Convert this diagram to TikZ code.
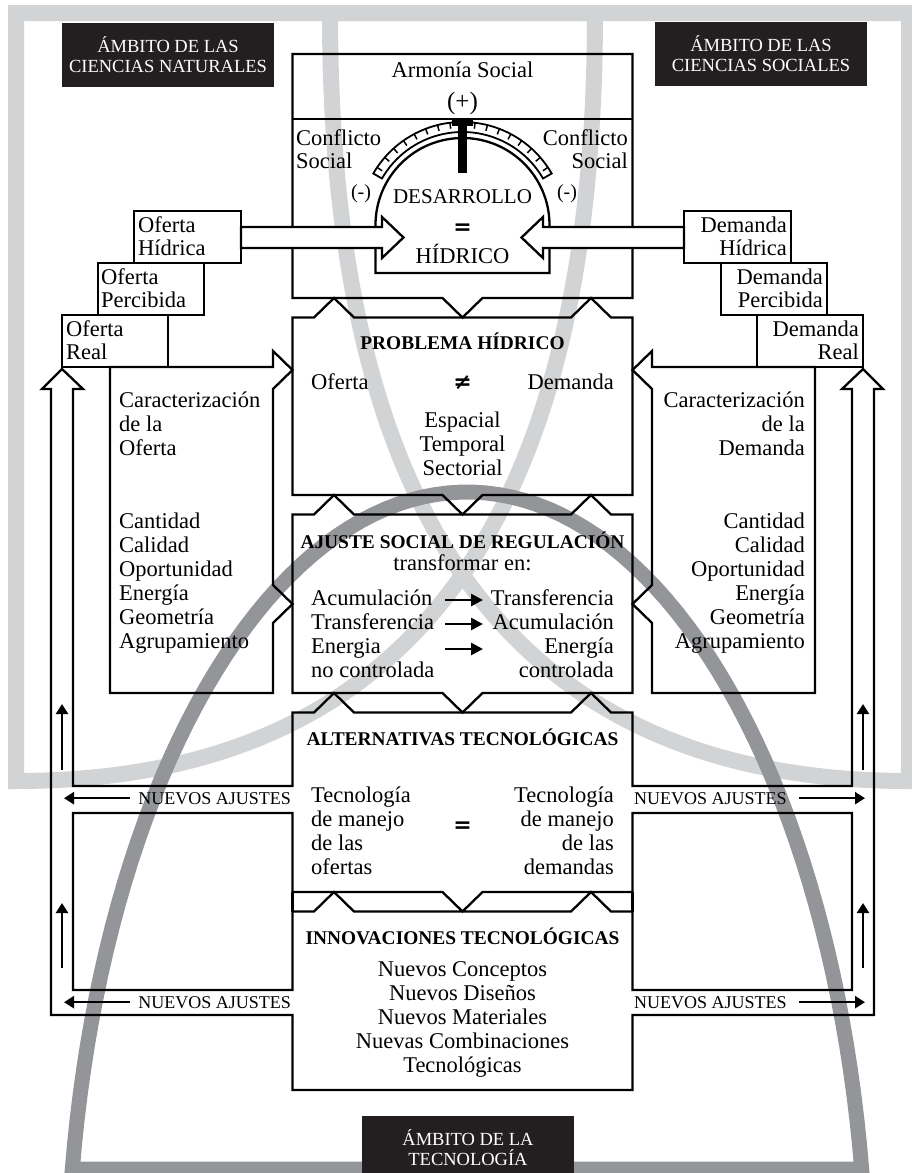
\documentclass[tikz,border=0pt]{standalone}
\usepackage{fontspec}
\setmainfont{Liberation Serif}
\newfontfamily\eqsignfont{DejaVu Sans}
\usetikzlibrary{arrows.meta}
\definecolor{lightband}{HTML}{D1D3D4}
\definecolor{darkband}{HTML}{939598}
\definecolor{labelfill}{HTML}{231F20}
\tikzset{
  outline/.style={draw=black,line width=2.3pt},
  bodytext/.style={inner sep=0pt,font=\fontsize{22.5}{24}\selectfont},
  stairtext/.style={inner sep=0pt,font=\fontsize{22.5}{23}\selectfont},
  headtext/.style={inner sep=0pt,font=\fontsize{19.4}{22}\selectfont\bfseries},
  smalltext/.style={inner sep=0pt,font=\fontsize{18}{20}\selectfont},
  eqtext/.style={inner sep=0pt,font=\eqsignfont\bfseries\fontsize{22}{24}\selectfont},
  ambito/.style={fill=labelfill,text=white,inner sep=0pt,minimum width=212pt,minimum height=64pt,align=center,font=\fontsize{18.5}{20}\selectfont},
  flowarrow/.style={line width=2.3pt,-{Triangle[length=10pt,width=12pt]}},
  turnarrow/.style={line width=2.7pt,-{Triangle[length=12pt,width=12pt]}}
}
\begin{document}
\begin{tikzpicture}[x=1pt,y=-1pt,line join=miter]
\useasboundingbox (0,0) rectangle (912,1173);
\clip (0,0) rectangle (912,1173);
%%
  % Area: ciencias naturales
  \draw[lightband,line width=16pt] (595,13) .. controls (595,489) and (433,781) .. (16,781) -- (16,13) -- cycle;
  % Area: ciencias sociales
  \draw[lightband,line width=16pt] (330,13) .. controls (330,489) and (492,781) .. (909,781) -- (909,13) -- cycle;
  % Area: tecnologia
  \draw[darkband,line width=15pt] plot[domain=9.33:170.67,samples=90] ({467+400*cos(\x)},{1300-808*sin(\x)}) -- cycle;
%%
  % Node: ambito labels
  \node[ambito] (naturales) at (168,55) {ÁMBITO DE LAS\\CIENCIAS NATURALES};
  \node[ambito] (sociales) at (761,54) {ÁMBITO DE LAS\\CIENCIAS SOCIALES};
  \node[ambito] (tecnologia) at (468,1148) {ÁMBITO DE LA\\TECNOLOGÍA};
%%
  % Node: desarrollo hidrico (top box)
  \draw[outline] (292.5,298) -- (292.5,54) -- (632.5,54) -- (632.5,298) -- (482.5,298) -- (462.5,317.5) -- (442.5,298) -- cycle;
  \draw[outline] (292.5,119) -- (632.5,119);
  % gauge
  \draw[outline] (375.5,273) -- (375.5,225) arc[start angle=180,end angle=0,radius=87pt] -- (549.5,273) -- cycle;
  \draw[line width=1.8pt] ({462.5+93*cos(150)},{225-93*sin(150)}) arc[start angle=150,end angle=30,radius=93pt]
    -- ({462.5+103*cos(30)},{225-103*sin(30)}) arc[start angle=30,end angle=150,radius=103pt] -- cycle;
  \foreach \a in {34,41,...,83,97,104,...,146}
    \draw[line width=1.5pt] ({462.5+103*cos(\a)},{225-103*sin(\a)}) -- ({462.5+97*cos(\a)},{225-97*sin(\a)});
  \fill (458,121) rectangle (467,173);
  \fill (452,118) rectangle (473,126);
  % Node: problema hidrico
  \draw[outline] (292.5,317.5) -- (314,317.5) -- (334,298) -- (354,317.5) -- (571,317.5) -- (591,298) -- (611,317.5) -- (632.5,317.5)
    -- (632.5,495) -- (482.5,495) -- (462.5,514.5) -- (442.5,495) -- (292.5,495) -- cycle;
  % Node: ajuste social
  \draw[outline] (292.5,514.5) -- (314,514.5) -- (334,495) -- (354,514.5) -- (571,514.5) -- (591,495) -- (611,514.5) -- (632.5,514.5)
    -- (632.5,693) -- (482.5,693) -- (462.5,712.5) -- (442.5,693) -- (292.5,693) -- cycle;
  % Node: alternativas + innovaciones, outer loop of nuevos ajustes
  \draw[outline] (51,1015) -- (51,389) -- (42,389) -- (62,369) -- (83,389) -- (73,389) -- (73,786) -- (292.5,786)
    -- (292.5,712.5) -- (314,712.5) -- (334,693) -- (354,712.5) -- (571,712.5) -- (591,693) -- (611,712.5) -- (632.5,712.5)
    -- (632.5,786) -- (852,786) -- (852,389) -- (842,389) -- (863,369) -- (883,389) -- (874,389) -- (874,1015)
    -- (632.5,1015) -- (632.5,1090) -- (292.5,1090) -- (292.5,1015) -- cycle;
  % inner loop
  \draw[outline] (73,813) -- (292.5,813) -- (292.5,892) -- (442.5,892) -- (462.5,911.5) -- (482.5,892) -- (632.5,892) -- (632.5,813)
    -- (852,813) -- (852,990) -- (632.5,990) -- (632.5,911.5) -- (611,911.5) -- (591,892) -- (571,911.5) -- (354,911.5)
    -- (334,892) -- (314,911.5) -- (292.5,911.5) -- (292.5,990) -- (73,990) -- cycle;
  \draw[outline] (292.5,892) -- (292.5,911.5);
  \draw[outline] (632.5,892) -- (632.5,911.5);
  % Node: caracterizacion de la oferta / demanda
  \draw[outline] (110,367) -- (273,367) -- (273,351) -- (292.5,370) -- (273,389) -- (273,585) -- (292.5,604) -- (273,623) -- (273,693) -- (110,693) -- cycle;
  \draw[outline] (815,367) -- (652,367) -- (652,351) -- (632.5,370) -- (652,389) -- (652,585) -- (632.5,604) -- (652,623) -- (652,693) -- (815,693) -- cycle;
  % Node: oferta / demanda stairs
  \draw[outline] (134,211) rectangle (241,263);
  \draw[outline] (98,263) rectangle (204,315);
  \draw[outline] (62,315) rectangle (168,367);
  \draw[outline] (684,211) rectangle (791,263);
  \draw[outline] (721,263) rectangle (827,315);
  \draw[outline] (757,315) rectangle (863,367);
  % Edge: oferta hidrica -> desarrollo
  \draw[outline,fill=white] (241,227) -- (382,227) -- (382,217) -- (403.5,237.5) -- (382,258) -- (382,248) -- (241,248) -- cycle;
  % Edge: demanda hidrica -> desarrollo
  \draw[outline,fill=white] (684,227) -- (543,227) -- (543,217) -- (521.5,237.5) -- (543,258) -- (543,248) -- (684,248) -- cycle;
%%
  % Text: top box
  \node[bodytext,anchor=base] (armonia) at (462.5,77) {Armonía Social};
  \node[bodytext,font=\fontsize{25}{25}\selectfont] (mas) at (462.5,103.5) {(+)};
  \node[stairtext,anchor=west,align=left] (conflictoL) at (296,149.5) {Conflicto\\Social};
  \node[stairtext,anchor=east,align=right] (conflictoR) at (628,149.5) {Conflicto\\Social};
  \node[bodytext,font=\fontsize{20}{20}\selectfont] (menosL) at (361,194) {(-)};
  \node[bodytext,font=\fontsize{20}{20}\selectfont] (menosR) at (567,194) {(-)};
  \node[bodytext,anchor=base,font=\fontsize{21}{21}\selectfont] (desarrollo) at (462.5,203) {DESARROLLO};
  \node[eqtext] (igualD) at (462.5,229) {=};
  \node[bodytext,anchor=base] (hidrico) at (462.5,263) {HÍDRICO};
  % Text: stairs
  \node[stairtext,anchor=west,align=left] (ofHid) at (138,236) {Oferta\\Hídrica};
  \node[stairtext,anchor=west,align=left] (ofPer) at (101,288) {Oferta\\Percibida};
  \node[stairtext,anchor=west,align=left] (ofReal) at (66,340) {Oferta\\Real};
  \node[stairtext,anchor=east,align=right] (deHid) at (787,236) {Demanda\\Hídrica};
  \node[stairtext,anchor=east,align=right] (dePer) at (823,288) {Demanda\\Percibida};
  \node[stairtext,anchor=east,align=right] (deReal) at (859,340) {Demanda\\Real};
  % Text: problema hidrico
  \node[headtext,anchor=base] (problema) at (462.5,349) {PROBLEMA HÍDRICO};
  \node[bodytext,anchor=base west] (pOferta) at (311,389) {Oferta};
  \node[eqtext] (distinto) at (462.5,383) {≠};
  \node[bodytext,anchor=base east] (pDemanda) at (614,389) {Demanda};
  \node[bodytext,align=center] (dims) at (462.5,444) {Espacial\\Temporal\\Sectorial};
  % Text: caracterizacion columns
  \node[bodytext,anchor=west,align=left] (carOf) at (119,424) {Caracterización\\de la\\Oferta};
  \node[bodytext,anchor=west,align=left] (atribOf) at (119,583) {Cantidad\\Calidad\\Oportunidad\\Energía\\Geometría\\Agrupamiento};
  \node[bodytext,anchor=east,align=right] (carDe) at (805,424) {Caracterización\\de la\\Demanda};
  \node[bodytext,anchor=east,align=right] (atribDe) at (805,583) {Cantidad\\Calidad\\Oportunidad\\Energía\\Geometría\\Agrupamiento};
  % Text: ajuste social
  \node[headtext,anchor=base] (ajuste) at (462.5,548) {AJUSTE SOCIAL DE REGULACIÓN};
  \node[bodytext,anchor=base] (transf) at (462.5,570) {transformar en:};
  \node[bodytext,anchor=west,align=left] (ajIzq) at (311,633.5) {Acumulación\\Transferencia\\Energia\\no controlada};
  \node[bodytext,anchor=east,align=right] (ajDer) at (614,633.5) {Transferencia\\Acumulación\\Energía\\controlada};
  \coordinate (tr1s) at (445,600); \coordinate (tr1e) at (483,600);
  \coordinate (tr2s) at (445,624); \coordinate (tr2e) at (483,624);
  \coordinate (tr3s) at (445,649); \coordinate (tr3e) at (483,649);
  \draw[turnarrow] (tr1s) -- (tr1e);
  \draw[turnarrow] (tr2s) -- (tr2e);
  \draw[turnarrow] (tr3s) -- (tr3e);
  % Text: alternativas
  \node[headtext,anchor=base] (alternativas) at (462.5,745) {ALTERNATIVAS TECNOLÓGICAS};
  \node[bodytext,anchor=west,align=left] (altOf) at (311,831) {Tecnología\\de manejo\\de las\\ofertas};
  \node[eqtext] (igualT) at (462.5,827) {=};
  \node[bodytext,anchor=east,align=right] (altDe) at (614,831) {Tecnología\\de manejo\\de las\\demandas};
  % Text: innovaciones
  \node[headtext,anchor=base] (innovaciones) at (462.5,944) {INNOVACIONES TECNOLÓGICAS};
  \node[bodytext,align=center] (nuevos) at (462.5,1019) {Nuevos Conceptos\\Nuevos Diseños\\Nuevos Materiales\\Nuevas Combinaciones\\Tecnológicas};
  % Text: nuevos ajustes
  \node[smalltext,anchor=base east] (ajusteL1) at (291,804) {NUEVOS AJUSTES};
  \node[smalltext,anchor=base east] (ajusteL2) at (291,1008) {NUEVOS AJUSTES};
  \node[smalltext,anchor=base west] (ajusteR1) at (634,804) {NUEVOS AJUSTES};
  \node[smalltext,anchor=base west] (ajusteR2) at (634,1008) {NUEVOS AJUSTES};
  % Edge: nuevos ajustes -> loops
  \coordinate (tipL1) at (64,797); \coordinate (tipL2) at (64,1002);
  \coordinate (tipR1) at (865,797); \coordinate (tipR2) at (865,1002);
  \draw[flowarrow] ([xshift=-8pt]ajusteL1.west) -- (tipL1 |- ajusteL1.west);
  \draw[flowarrow] ([xshift=-8pt]ajusteL2.west) -- (tipL2 |- ajusteL2.west);
  \draw[flowarrow] ([xshift=12pt]ajusteR1.east) -- (tipR1 |- ajusteR1.east);
  \draw[flowarrow] ([xshift=12pt]ajusteR2.east) -- (tipR2 |- ajusteR2.east);
  % Edge: loops -> oferta / demanda real
  \coordinate (upL1s) at (62,770); \coordinate (upL1e) at (62,704);
  \coordinate (upL2s) at (62,968); \coordinate (upL2e) at (62,903);
  \coordinate (upR1s) at (863,770); \coordinate (upR1e) at (863,704);
  \coordinate (upR2s) at (863,968); \coordinate (upR2e) at (863,903);
  \draw[flowarrow] (upL1s) -- (upL1e);
  \draw[flowarrow] (upL2s) -- (upL2e);
  \draw[flowarrow] (upR1s) -- (upR1e);
  \draw[flowarrow] (upR2s) -- (upR2e);
%
\end{tikzpicture}
\end{document}
